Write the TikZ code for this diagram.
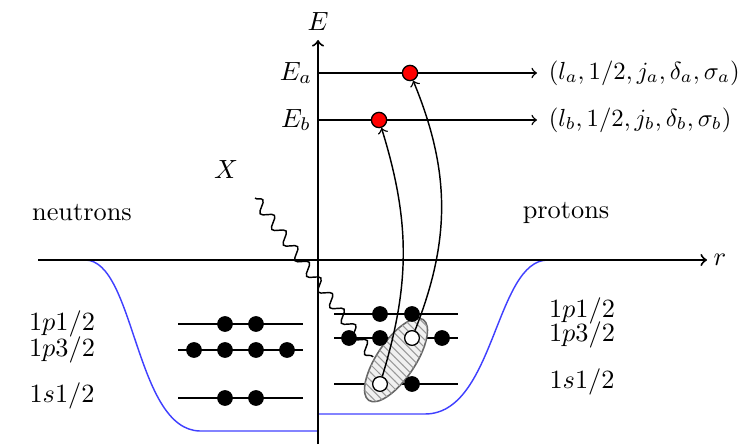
\documentclass[tikz,border=0pt]{standalone}
\usetikzlibrary{shapes.geometric,patterns,decorations.pathmorphing}
\begin{document}
\begin{tikzpicture}[x=0.38pt,y=-0.38pt,
  axis/.style={line width=0.75pt,->},
  level/.style={line width=0.5pt},
  dotb/.style={circle,fill=black,inner sep=0pt,minimum size=6pt},
  dotw/.style={circle,fill=white,draw=black,line width=0.5pt,inner sep=0pt,minimum size=5.6pt},
  dotr/.style={circle,fill=red,draw=black,line width=0.5pt,inner sep=0pt,minimum size=5.8pt},
  pot/.style={blue!75!white,line width=0.55pt},
  jump/.style={->,line width=0.55pt},
  hole/.style={ellipse,draw=black!60,line width=0.6pt,fill=gray!12,
    postaction={pattern=north west lines,pattern color=gray!80},
    minimum width=37pt,minimum height=14.5pt,inner sep=0pt,rotate=56}]
\useasboundingbox (0,0) rectangle (747,444);
% potential
\draw[pot] (52,260) -- (85,260) .. controls (135,260) and (135,430) .. (200,431) -- (318,431);
\draw[pot] (318,414) -- (425,414) .. controls (495,414) and (495,260) .. (548,260) -- (583,260);
% axes
\coordinate (Eb0) at (318,444);
\coordinate (Et) at (318,40);
\coordinate (r0) at (38,260);
\coordinate (rt) at (707,260);
\draw[axis] (Eb0) -- (Et);
\draw[axis] (r0) -- (rt);
\node (Elab) at (318,22) {$E$};
\node (rlab) at (720,260) {$r$};
% energy lines
\coordinate (Ea0) at (318,73);
\coordinate (Ea1) at (537,73);
\coordinate (Ebb0) at (318,120);
\coordinate (Eb1) at (537,120);
\draw[line width=0.55pt,->] (Ea0) -- (Ea1);
\draw[line width=0.55pt,->] (Ebb0) -- (Eb1);
\node (Ealab) at (296,73) {$E_a$};
\node (Eblab) at (296,120) {$E_b$};
\node[anchor=west,scale=0.94] (qa) at (540,73) {$(l_a,1/2,j_a,\delta_a,\sigma_a)$};
\node[anchor=west,scale=0.94] (qb) at (540,120) {$(l_b,1/2,j_b,\delta_b,\sigma_b)$};
% labels
\node (Xlab) at (226,170) {$X$};
\node (neu) at (82,213) {neutrons};
\node (pro) at (566,213) {protons};
\node (nl1) at (62,324) {$1p1/2$};
\node (nl2) at (62,350) {$1p3/2$};
\node (nl3) at (62,396) {$1s1/2$};
\node (pl1) at (582,311) {$1p1/2$};
\node (pl2) at (582,335) {$1p3/2$};
\node (pl3) at (582,382) {$1s1/2$};
% neutron levels
\coordinate (na1) at (178,324); \coordinate (nb1) at (303,324);
\coordinate (na2) at (178,350); \coordinate (nb2) at (303,350);
\coordinate (na3) at (178,398); \coordinate (nb3) at (303,398);
\draw[level] (na1) -- (nb1);
\draw[level] (na2) -- (nb2);
\draw[level] (na3) -- (nb3);
% proton levels
\coordinate (pa1) at (334,314); \coordinate (pb1) at (458,314);
\coordinate (pa2) at (334,338); \coordinate (pb2) at (458,338);
\coordinate (pa3) at (334,384); \coordinate (pb3) at (458,384);
\draw[level] (pa1) -- (pb1);
\draw[level] (pa2) -- (pb2);
\draw[level] (pa3) -- (pb3);
% hole pair
\node[hole] (pair) at (396,360) {};
% photon
\coordinate (Xs) at (255,198);
\coordinate (Xe) at (373,357);
\draw[line width=0.55pt,decorate,decoration={snake,segment length=7.4pt,amplitude=2pt}] (Xs) -- (Xe);
% neutron dots
\node[dotb] (n11) at (225,324) {};
\node[dotb] (n12) at (256,324) {};
\node[dotb] (n21) at (194,350) {};
\node[dotb] (n22) at (225,350) {};
\node[dotb] (n23) at (256,350) {};
\node[dotb] (n24) at (287,350) {};
\node[dotb] (n31) at (225,398) {};
\node[dotb] (n32) at (256,398) {};
% proton dots
\node[dotb] (p11) at (380,314) {};
\node[dotb] (p12) at (412,314) {};
\node[dotb] (p21) at (349,338) {};
\node[dotb] (p22) at (380,338) {};
\node[dotw] (p23) at (412,338) {};
\node[dotb] (p24) at (442,338) {};
\node[dotw] (p31) at (380,384) {};
\node[dotb] (p32) at (412,384) {};
% excited particles
\node[dotr] (ra) at (410,73) {};
\node[dotr] (rb) at (379,120) {};
\draw[jump] (p31) to[bend right=17] (rb);
\draw[jump] (p23) to[bend right=22] (ra);
\end{tikzpicture}
\end{document}
